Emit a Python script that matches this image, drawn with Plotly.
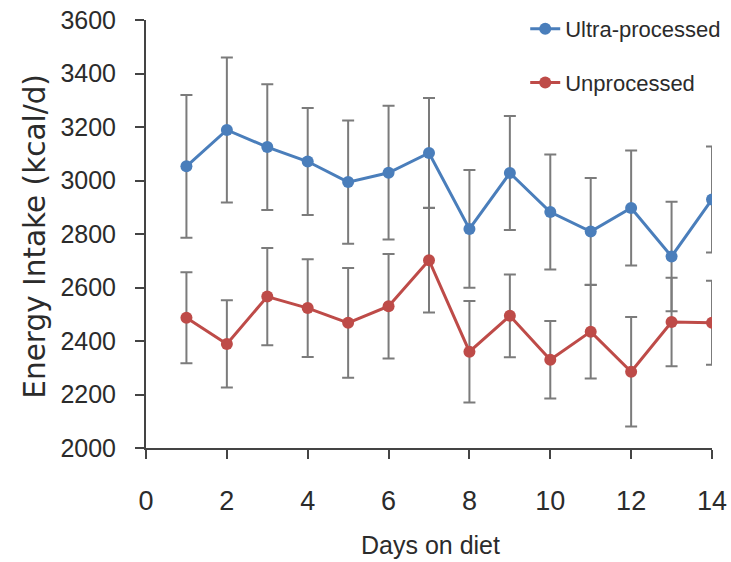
import plotly.graph_objects as go

days = list(range(1, 15))
ultra = [3053, 3189, 3125, 3071, 2994, 3029, 3103, 2819, 3028, 2882, 2809, 2897, 2716, 2929]
ultra_err = [267, 271, 235, 200, 230, 250, 205, 220, 213, 215, 200, 215, 205, 198]
unproc = [2487, 2389, 2566, 2523, 2468, 2530, 2702, 2360, 2494, 2330, 2435, 2285, 2471, 2468]
unproc_err = [170, 163, 182, 183, 205, 195, 195, 190, 155, 145, 175, 205, 165, 157]

names = ["Ultra-processed", "Unprocessed"]
colors = ["#4A7EBB", "#BE4B48"]
FONT = "Liberation Sans"
TXT = "#2b2b2b"
ERR = "#7b7b7b"

fig = go.Figure()
# error bars first (beneath lines/markers)
for y, e in [(ultra, ultra_err), (unproc, unproc_err)]:
    fig.add_trace(go.Scatter(
        x=days, y=y, mode="markers", marker=dict(size=1, opacity=0),
        error_y=dict(type="data", array=e, visible=True, color=ERR, thickness=2, width=6),
        showlegend=False, hoverinfo="skip"))
for i, (y, name) in enumerate([(ultra, names[0]), (unproc, names[1])]):
    fig.add_trace(go.Scatter(
        x=days, y=y, mode="lines+markers", name=name, legendgroup=name,
        line=dict(color=colors[i], width=3),
        marker=dict(color=colors[i], size=12)))

fig.update_layout(
    width=731, height=562,
    margin=dict(l=146, r=19, t=20, b=114, autoexpand=False),
    paper_bgcolor="white", plot_bgcolor="white",
    font=dict(family=FONT, color=TXT),
    showlegend=True,
    legend=dict(x=0.670, y=1.028, xanchor="left", yanchor="top",
                font=dict(size=22, family=FONT, color=TXT),
                tracegroupgap=22, bgcolor="rgba(0,0,0,0)"),
    xaxis=dict(range=[0, 14], dtick=2, tick0=0, showgrid=False, zeroline=False,
               showline=True, linecolor="#444444", linewidth=2,
               ticks="outside", ticklen=9, tickwidth=2, tickcolor="#444444",
               tickfont=dict(size=27, family=FONT, color=TXT), ticklabelstandoff=19,
               ticklabeloverflow="allow"),
    yaxis=dict(range=[2000, 3600], dtick=200, tick0=2000, showgrid=False, zeroline=False,
               showline=True, linecolor="#444444", linewidth=2,
               ticks="outside", ticklen=9, tickwidth=2, tickcolor="#444444",
               tickfont=dict(size=25, family=FONT, color=TXT), ticklabelstandoff=14,
               ticklabeloverflow="allow"),
    annotations=[
        dict(text="Days on diet", xref="paper", yref="paper", x=0.502, y=-0.2266,
             xanchor="center", yanchor="middle", showarrow=False,
             font=dict(size=25, family=FONT, color=TXT)),
        dict(text="Energy Intake (kcal/d)", xref="paper", yref="paper", x=-0.196, y=0.494,
             xanchor="center", yanchor="middle", showarrow=False, textangle=-90,
             font=dict(size=29.5, family="DejaVu Sans", color=TXT)),
    ],
)
fig.write_html("out.html", config={"displayModeBar": False},
               post_script="document.body.style.margin='0';")
